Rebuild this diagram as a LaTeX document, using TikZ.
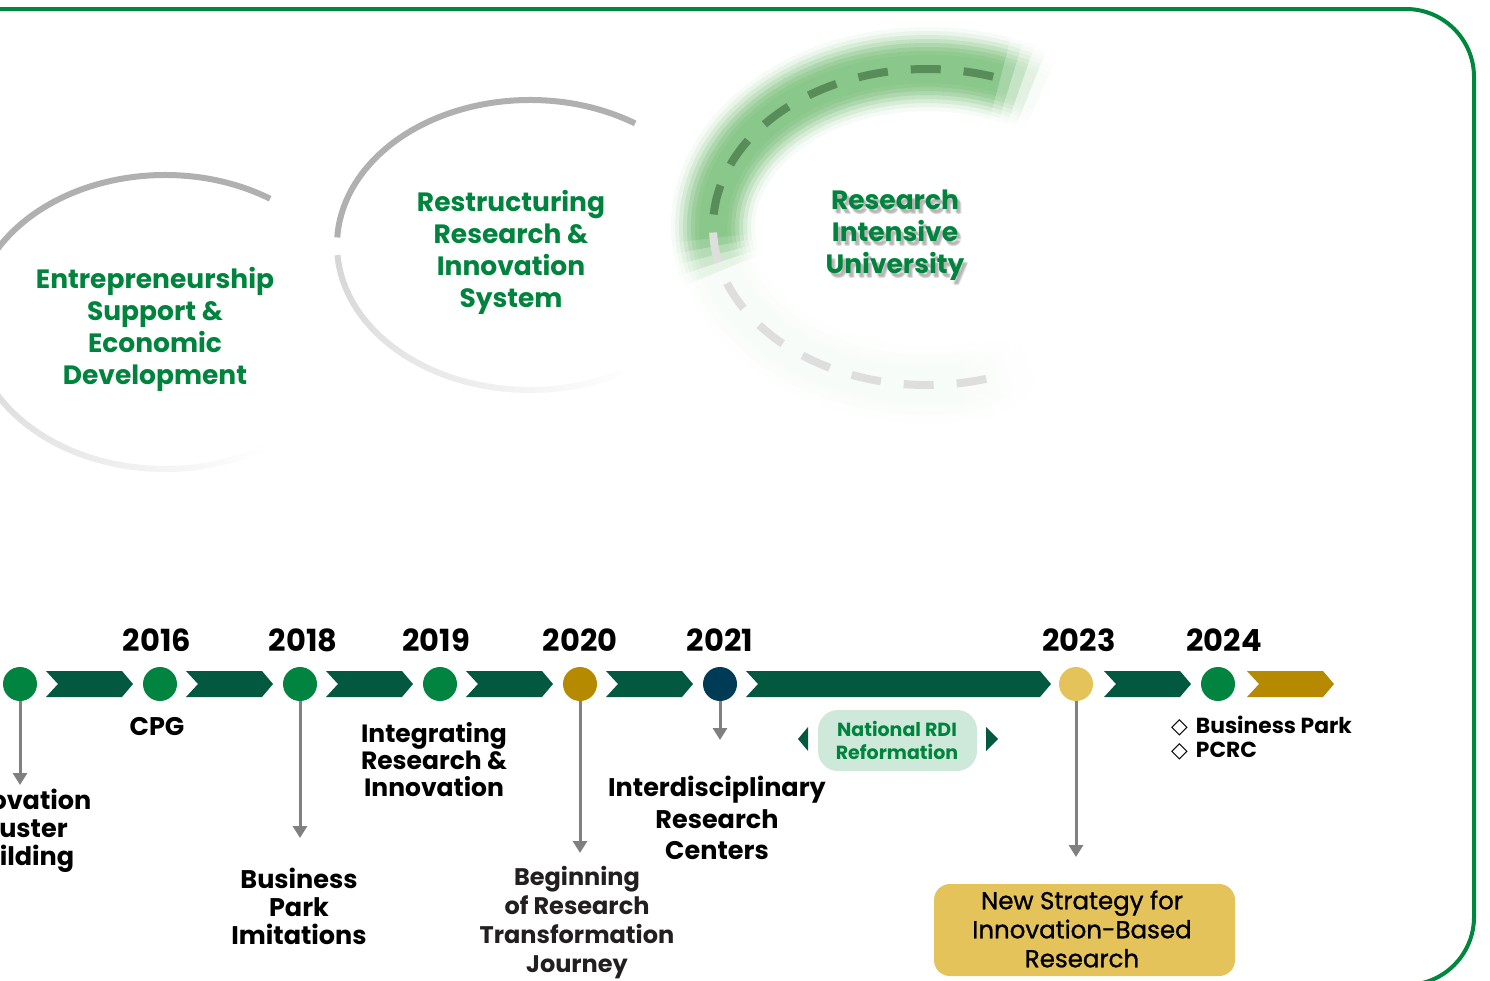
\documentclass[tikz,border=0pt]{standalone}
\usepackage{fontspec}
\setmainfont{Poppins}
\newfontfamily\djv{DejaVu Sans}
\newfontfamily\popmed{Poppins}[FakeBold=1.1]
\usetikzlibrary{arrows.meta,calc}
\definecolor{bordergreen}{HTML}{00873E}
\definecolor{dotgreen}{HTML}{00843F}
\definecolor{chevgreen}{HTML}{025940}
\definecolor{goldc}{HTML}{B58A00}
\definecolor{navyc}{HTML}{003B55}
\definecolor{lightgold}{HTML}{E3C35A}
\definecolor{txtgreen}{HTML}{00843D}
\definecolor{arcgray}{RGB}{176,176,176}
\definecolor{arrowgray}{RGB}{128,128,128}
\definecolor{glowc}{RGB}{138,199,138}
\definecolor{dashgreen}{RGB}{88,140,88}
\definecolor{dashgray}{RGB}{222,222,222}
\definecolor{rdifill}{RGB}{206,232,218}
\definecolor{shadowc}{RGB}{60,60,60}
\begin{document}
\begin{tikzpicture}[x=1pt,y=-1pt,
  yr/.style={font=\bfseries\fontsize{30.5}{32}\selectfont, inner sep=0pt},
  lbl/.style={font=\bfseries\fontsize{25.5}{28}\selectfont, align=center, inner sep=0pt},
  toplbl/.style={font=\bfseries\fontsize{26.5}{32}\selectfont, align=center, inner sep=0pt, text=txtgreen},
  dot/.style={circle, minimum size=34pt, inner sep=0pt},
  garrow/.style={draw=arrowgray, line width=3pt, -{Triangle[width=14pt,length=12pt]}},
  blt/.style={font=\bfseries\fontsize{21.8}{25}\selectfont, anchor=west, inner sep=0pt}]
\useasboundingbox (0,0) rectangle (1490,980);
\clip (0,0) rectangle (1490,980);
\fill[white] (0,0) rectangle (1490,980);
% border
\draw[bordergreen, line width=4pt, rounded corners=68pt] (-80,9) rectangle (1474,985);

% ---- arc 1
\coordinate (ca) at (165,322);
\draw[arcgray, line width=6pt] (ca) ++(57:193pt and 147pt) arc[start angle=57, end angle=177, x radius=193pt, y radius=147pt];
\foreach \t in {186,189,...,297} {
  \pgfmathsetmacro\p{52*(300-\t)/114}
  \draw[line width=6pt, color=arcgray!\p!white] (ca) ++(\t:193pt and 147pt) arc[start angle=\t, end angle=\t+3.4, x radius=193pt, y radius=147pt];
}
% ---- arc 2
\coordinate (cb) at (530,245);
\draw[arcgray, line width=6pt] (cb) ++(57:193pt and 145pt) arc[start angle=57, end angle=177, x radius=193pt, y radius=145pt];
\foreach \t in {184,187,...,297} {
  \pgfmathsetmacro\p{52*(300-\t)/116}
  \draw[line width=6pt, color=arcgray!\p!white] (cb) ++(\t:193pt and 145pt) arc[start angle=\t, end angle=\t+3.4, x radius=193pt, y radius=145pt];
}
% ---- arc 3 glow (opaque layers, widest first)
\coordinate (cc) at (927,227);
\foreach \w/\f in {84/0.07,76/0.18,68/0.34,60/0.52,52/0.7,44/0.85,36/0.95,28/1} {
  \foreach \t in {58,61,...,296} {
    \pgfmathsetmacro\a{max(0,max(min(1,min((\t-58)/12,(196-\t)/14)),0.06*min(1,(298-\t)/20)))}
    \pgfmathsetmacro\p{100*\a*\f}
    \draw[glowc!\p!white, line width=\w pt] (cc) ++(\t:214pt and 158pt) arc[start angle=\t, end angle=\t+3.5, x radius=214pt, y radius=158pt];
  }
}
\draw[dashgreen, line width=8pt, dash pattern=on 30pt off 23pt] (cc) ++(72:214pt and 158pt) arc[start angle=72, end angle=178, x radius=214pt, y radius=158pt];
\draw[dashgray, line width=8pt, dash pattern=on 30pt off 23pt] (cc) ++(182:214pt and 158pt) arc[start angle=182, end angle=289, x radius=214pt, y radius=158pt];

% top labels
\node[toplbl] (ent) at (155,329) {Entrepreneurship\\Support \&\\Economic\\Development};
\node[toplbl] (res) at (511,252) {Restructuring\\Research \&\\Innovation\\System};
\foreach \dx/\dy [count=\i] in {2/3,3/4,4/5,3/5,4/4} {
  \node[toplbl, text=shadowc, opacity=0.09] (rsh\i) at (895+\dx,235+\dy) {Research\\Intensive\\University};
}
\node[toplbl] (riu) at (895,235) {Research\\Intensive\\University};

% chevrons
\foreach \a/\b/\c in {46/133/chevgreen,186/273/chevgreen,326/413/chevgreen,466/553/chevgreen,606/693/chevgreen,746/1051/chevgreen,1104/1191/chevgreen,1247/1334/goldc}{
  \fill[\c] (\a,671) -- (\b-11,671) -- (\b,684) -- (\b-11,697) -- (\a,697) -- (\a+12,684) -- cycle;
}
% dots
\node[dot, fill=dotgreen] (d1) at (20,684) {};
\node[dot, fill=dotgreen] (d2) at (160,684) {};
\node[dot, fill=dotgreen] (d3) at (300,684) {};
\node[dot, fill=dotgreen] (d4) at (440,684) {};
\node[dot, fill=goldc] (d5) at (580,684) {};
\node[dot, fill=navyc] (d6) at (720,684) {};
\node[dot, fill=lightgold] (d7) at (1076,684) {};
\node[dot, fill=dotgreen] (d8) at (1218,684) {};
% years
\node[yr] (y1) at (157,640) {2016};
\node[yr] (y2) at (303,640) {2018};
\node[yr] (y3) at (436,640) {2019};
\node[yr] (y4) at (580,640) {2020};
\node[yr] (y5) at (720,640) {2021};
\node[yr] (y6) at (1079,640) {2023};
\node[yr] (y7) at (1224,640) {2024};
% arrows
\coordinate (e1) at (20,785);
\coordinate (e3) at (300,838);
\coordinate (e5) at (580,853);
\coordinate (e6) at (720,740);
\coordinate (e7) at (1076,857);
\draw[garrow] (d1.south) -- (e1);
\draw[garrow] (d3.south) -- (e3);
\draw[garrow] (d5.south) -- (e5);
\draw[garrow] (d6.south) -- (e6);
\draw[garrow] (d7.south) -- (e7);
% labels
\node[lbl] (cpg) at (157,726) {CPG};
\node[lbl] (icb) at (20,831) {Innovation\\Cluster\\Building};
\node[lbl, font=\bfseries\fontsize{25}{27}\selectfont] (iri) at (434,760) {Integrating\\Research \&\\Innovation};
\node[lbl] (bpi) at (299,906) {Business\\Park\\Imitations};
\node[lbl, font=\bfseries\fontsize{24}{29}\selectfont, text={rgb,255:red,35;green,31;blue,32}] (brt) at (577,923) {Beginning\\of Research\\Transformation\\Journey};
\node[lbl, font=\bfseries\fontsize{25.5}{31.5}\selectfont] (irc) at (717,818) {Interdisciplinary\\Research\\Centers};
% RDI
\fill[rdifill, rounded corners=20pt] (818,710) rectangle (977,771);
\node[font=\bfseries\fontsize{19}{23}\selectfont, text=txtgreen, align=center, inner sep=0pt] (rdi) at (897,740) {National RDI\\Reformation};
\fill[chevgreen] (808,727) -- (798,739) -- (808,751) -- cycle;
\fill[chevgreen] (986,727) -- (998,739) -- (986,751) -- cycle;
% bullets
\node[blt] (bp) at (1171,726) {{\djv\mdseries ◇}\hspace{8pt}Business Park};
\node[blt] (pc) at (1171,751) {{\djv\mdseries ◇}\hspace{8pt}PCRC};
% gold box
\fill[lightgold, rounded corners=16pt] (934,884) rectangle (1235,976);
\node[font=\popmed\fontsize{24.5}{29}\selectfont, align=center, inner sep=0pt] (nsi) at (1082,929) {New Strategy for\\Innovation-Based\\Research};
\end{tikzpicture}
\end{document}
